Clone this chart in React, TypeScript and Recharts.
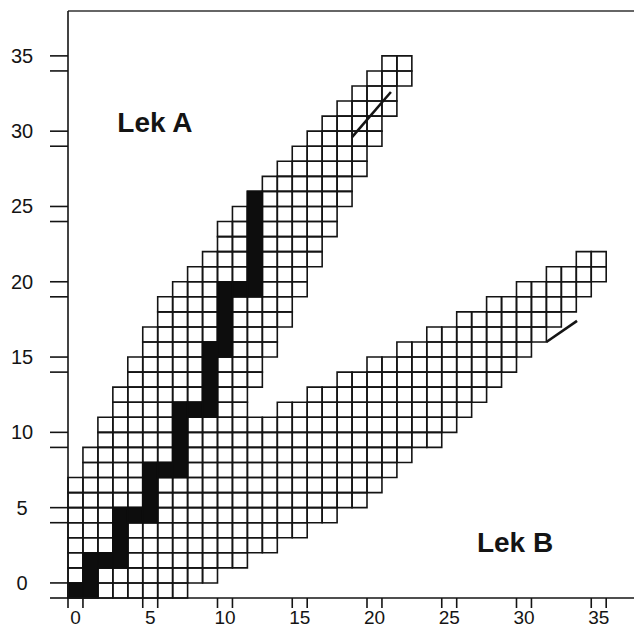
import React from 'react';
import { ComposedChart, XAxis, YAxis, ReferenceArea, ReferenceLine, ReferenceDot } from 'recharts';

// lower band, one row range per column 0..35 (on the left it is merged with the Lek A band)
const lowerBandBottom = [0, 0, 0, 0, 0, 0, 0, 0, 1, 1, 2, 2, 3, 3, 4, 4, 5, 5, 6, 6, 7, 8, 9, 10, 10, 11, 12, 13, 14, 15, 16, 17, 18, 19, 20, 21];
const lowerBandTop = [7, 9, 11, 13, 15, 17, 19, 20, 21, 22, 24, 25, 11, 11, 12, 12, 13, 13, 14, 14, 15, 15, 16, 16, 17, 17, 18, 18, 19, 19, 20, 20, 21, 21, 22, 22];

// Lek A band where it splits off from the lower one
const upperBandCols = [12, 13, 14, 15, 16, 17, 18, 19, 20, 21, 22];
const upperBandBottom = [14, 16, 18, 20, 22, 24, 26, 28, 30, 32, 34];
const upperBandTop = [26, 27, 28, 29, 30, 31, 32, 33, 34, 35, 35];

// black staircase: one vertical run of cells per column
const pathCols = [0, 1, 2, 3, 4, 5, 6, 7, 8, 9, 10, 11, 12];
const pathFrom = [0, 0, 2, 2, 5, 5, 8, 8, 12, 12, 16, 20, 20];
const pathTo = [0, 2, 2, 5, 5, 8, 8, 12, 12, 16, 20, 20, 26];

const xTicks = [0, 5, 10, 15, 20, 25, 30, 35];
const yTicks = [0, 5, 10, 15, 20, 25, 30, 35];

// the two short diagonal strokes
const strokeA = [{ x: 19, y: 30.6 }, { x: 21.6, y: 33.6 }];
const strokeB = [{ x: 32, y: 17 }, { x: 34.05, y: 18.4 }];

const CHART_W = 634;
const CHART_H = 630;
const PLOT_LEFT = 68;
const PLOT_TOP = 11;
const PLOT_BOTTOM = 598;
const X_MAX = 37.86;
const Y_MAX = 38.98;
const UX = (CHART_W - PLOT_LEFT) / X_MAX;
const UY = (PLOT_BOTTOM - PLOT_TOP) / Y_MAX;

const INK = '#141414';
const FONT = '"Liberation Sans", Arial, Helvetica, sans-serif';

type Cell = { x: number; y: number };

const cells: Cell[] = [];
lowerBandBottom.forEach((lo, c) => {
  for (let r = lo; r <= lowerBandTop[c]; r++) cells.push({ x: c, y: r });
});
upperBandCols.forEach((c, i) => {
  for (let r = upperBandBottom[i]; r <= upperBandTop[i]; r++) cells.push({ x: c, y: r });
});

const YTick = (props: any) => {
  const { y, payload } = props;
  return (
    <g>
      <line x1={PLOT_LEFT - 18} x2={PLOT_LEFT} y1={y} y2={y} stroke={INK} strokeWidth={1.6} />
      <line x1={PLOT_LEFT - 18} x2={PLOT_LEFT} y1={y - UY} y2={y - UY} stroke={INK} strokeWidth={1.6} />
      <text x={22} y={y - UY} textAnchor="middle" dominantBaseline="central" fontSize={20} fontFamily={FONT} fill={INK}>
        {payload.value}
      </text>
    </g>
  );
};

const XTick = (props: any) => {
  const { x, payload } = props;
  return (
    <g>
      <line x1={x} x2={x} y1={PLOT_BOTTOM} y2={PLOT_BOTTOM + 10} stroke={INK} strokeWidth={1.6} />
      <line x1={x + UX} x2={x + UX} y1={PLOT_BOTTOM} y2={PLOT_BOTTOM + 10} stroke={INK} strokeWidth={1.6} />
      <text x={x + UX / 2} y={624} textAnchor="middle" fontSize={19} fontFamily={FONT} fill={INK}>
        {payload.value}
      </text>
    </g>
  );
};

const bandLabel = (text: string) => (p: any) => (
  <text x={p.cx} y={p.cy} fontSize={28} fontWeight="bold" fontFamily={FONT} fill={INK}>
    {text}
  </text>
);

export default function App() {
  return (
    <div style={{ position: 'absolute', left: 0, top: 0, width: CHART_W, height: CHART_H, background: '#fff' }}>
      <ComposedChart
        width={CHART_W}
        height={CHART_H}
        data={cells}
        margin={{ top: PLOT_TOP, right: 0, bottom: 0, left: 0 }}
      >
        <XAxis
          type="number"
          dataKey="x"
          domain={[0, X_MAX]}
          allowDataOverflow
          ticks={xTicks}
          tick={<XTick />}
          tickLine={false}
          tickSize={0}
          axisLine={{ stroke: INK, strokeWidth: 1.6 }}
          height={CHART_H - PLOT_BOTTOM}
        />
        <YAxis
          type="number"
          dataKey="y"
          domain={[0, Y_MAX]}
          allowDataOverflow
          ticks={yTicks}
          tick={<YTick />}
          tickLine={false}
          tickSize={0}
          axisLine={{ stroke: INK, strokeWidth: 1.6 }}
          width={PLOT_LEFT}
        />
        <ReferenceLine y={Y_MAX} stroke="#333" strokeWidth={1.6} ifOverflow="visible" />

        {cells.map((c, i) => (
          <ReferenceArea
            key={`cell-${i}`}
            x1={c.x}
            x2={c.x + 1}
            y1={c.y}
            y2={c.y + 1}
            fill="none"
            fillOpacity={0}
            stroke={INK}
            strokeWidth={1.6}
            ifOverflow="visible"
          />
        ))}

        {pathCols.map((c, i) => (
          <ReferenceArea
            key={`path-${i}`}
            x1={c}
            x2={c + 1}
            y1={pathFrom[i]}
            y2={pathTo[i] + 1}
            fill="#0d0d0d"
            fillOpacity={1}
            stroke="#0d0d0d"
            strokeWidth={1.6}
            ifOverflow="visible"
          />
        ))}

        <ReferenceLine segment={strokeA} stroke={INK} strokeWidth={2.6} ifOverflow="visible" />
        <ReferenceLine segment={strokeB} stroke={INK} strokeWidth={2.6} ifOverflow="visible" />

        <ReferenceDot x={3.3} y={30.95} r={0} ifOverflow="visible" shape={bandLabel('Lek A')} />
        <ReferenceDot x={27.35} y={3.05} r={0} ifOverflow="visible" shape={bandLabel('Lek B')} />
      </ComposedChart>
    </div>
  );
}
